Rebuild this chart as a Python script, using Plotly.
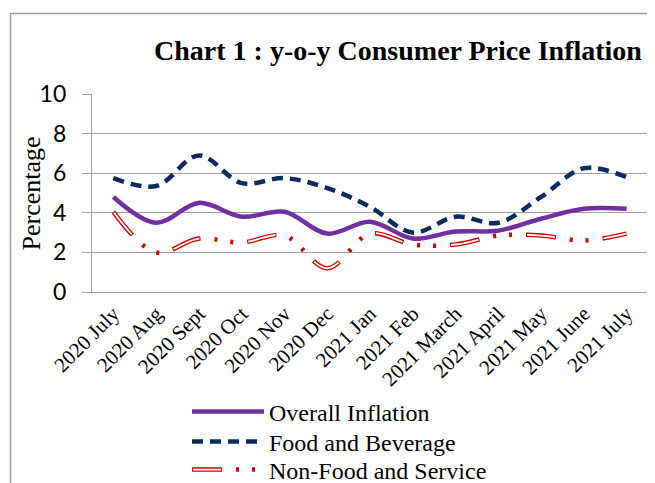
import plotly.graph_objects as go

months = ["2020 July", "2020 Aug", "2020 Sept", "2020 Oct", "2020 Nov", "2020 Dec",
          "2021 Jan", "2021 Feb", "2021 March", "2021 April", "2021 May", "2021 June", "2021 July"]
overall = [4.8, 3.5, 4.5, 3.8, 4.05, 2.95, 3.55, 2.7, 3.05, 3.1, 3.7, 4.2, 4.2]
food = [5.75, 5.35, 6.9, 5.5, 5.75, 5.25, 4.3, 3.0, 3.8, 3.5, 4.8, 6.25, 5.8]
nonfood = [4.05, 2.0, 2.7, 2.5, 2.85, 1.2, 2.95, 2.4, 2.4, 2.85, 2.85, 2.6, 2.95]

# the page body adds an 8px offset; figure coords = screen coords - 8
OFF = 8
W, H = 655 - OFF, 483 - OFF
L, T = 92 - OFF, 94 - OFF
R = W - (648 - OFF)
B = H - (292 - OFF)
pw, ph = W - L - R, H - T - B

def px_x(sx):
    return (sx - OFF - L) / pw

def px_y(sy):
    return (H - (sy - OFF) - B) / ph

NF_DASH_RED = "30px,14px,3px,13px,3px,14px"
NF_DASH_WHITE = "0px,1px,28px,48px"

fig = go.Figure()
fig.add_trace(go.Scatter(x=months, y=overall, mode="lines", name="Overall Inflation",
                         legend="legend",
                         line=dict(color="#7030A0", width=4.5, shape="spline", smoothing=1)))
fig.add_trace(go.Scatter(x=months, y=food, mode="lines", name="Food and Beverage",
                         legend="legend2",
                         line=dict(color="#0B2A60", width=4.5, shape="spline", smoothing=1,
                                   dash="11px,7px")))
fig.add_trace(go.Scatter(x=months, y=nonfood, mode="lines", name="Non-Food and Service",
                         legend="legend3",
                         line=dict(color="#D00000", width=4.5, shape="spline", smoothing=1,
                                   dash=NF_DASH_RED)))
fig.add_trace(go.Scatter(x=months, y=nonfood, mode="lines", name="\u00a0", hoverinfo="skip",
                         legend="legend4",
                         line=dict(color="white", width=1.8, shape="spline", smoothing=1,
                                   dash=NF_DASH_WHITE)))

# outer chart frame (left/top visible)
fig.add_shape(type="rect", xref="paper", yref="paper",
              x0=px_x(10.5), x1=px_x(700), y0=px_y(520), y1=px_y(13.5),
              line=dict(color="#9A9A9A", width=1.5), fillcolor="rgba(0,0,0,0)", layer="below")

# y-axis title
fig.add_annotation(text="Percentage", xref="paper", yref="paper",
                   x=px_x(31), y=px_y(193.5), xanchor="center", yanchor="middle",
                   textangle=-90, showarrow=False,
                   font=dict(family="Liberation Serif", size=26, color="black"))

leg_common = dict(orientation="v", xanchor="left", yanchor="middle",
                  bgcolor="rgba(0,0,0,0)", itemwidth=72,
                  font=dict(family="Liberation Serif", size=24, color="black"))

fig.update_layout(
    width=W, height=H,
    margin=dict(l=L, r=R, t=T, b=B, autoexpand=False),
    paper_bgcolor="white", plot_bgcolor="white",
    title=dict(text="<b>Chart 1 : y-o-y Consumer Price Inflation</b>",
               font=dict(family="Liberation Serif", size=28, color="black"),
               x=(398 - OFF) / W, xanchor="center", y=1 - (50 - OFF) / H, yanchor="middle"),
    legend=dict(x=px_x(187), y=px_y(412), **leg_common),
    legend2=dict(x=px_x(187), y=px_y(442), **leg_common),
    legend3=dict(x=px_x(187), y=px_y(470), **leg_common),
    legend4=dict(x=px_x(187), y=px_y(470), **leg_common),
    showlegend=True,
)
fig.update_xaxes(showgrid=False, showline=True, linecolor="#A0A0A0", linewidth=1.3,
                 ticks="", tickangle=-45, automargin=False, range=[-0.5, 12.5],
                 tickfont=dict(family="Liberation Serif", size=21, color="black"))
fig.update_yaxes(range=[0, 10], dtick=2, showgrid=True, gridcolor="#A0A0A0", gridwidth=1.3,
                 showline=True, linecolor="#A0A0A0", linewidth=1.3,
                 ticks="outside", ticklen=9, tickcolor="#A0A0A0", tickwidth=1.3,
                 ticklabelstandoff=11, zeroline=False, automargin=False,
                 tickfont=dict(family="Lato", size=23, color="black"))

fig.write_html("out.html")
